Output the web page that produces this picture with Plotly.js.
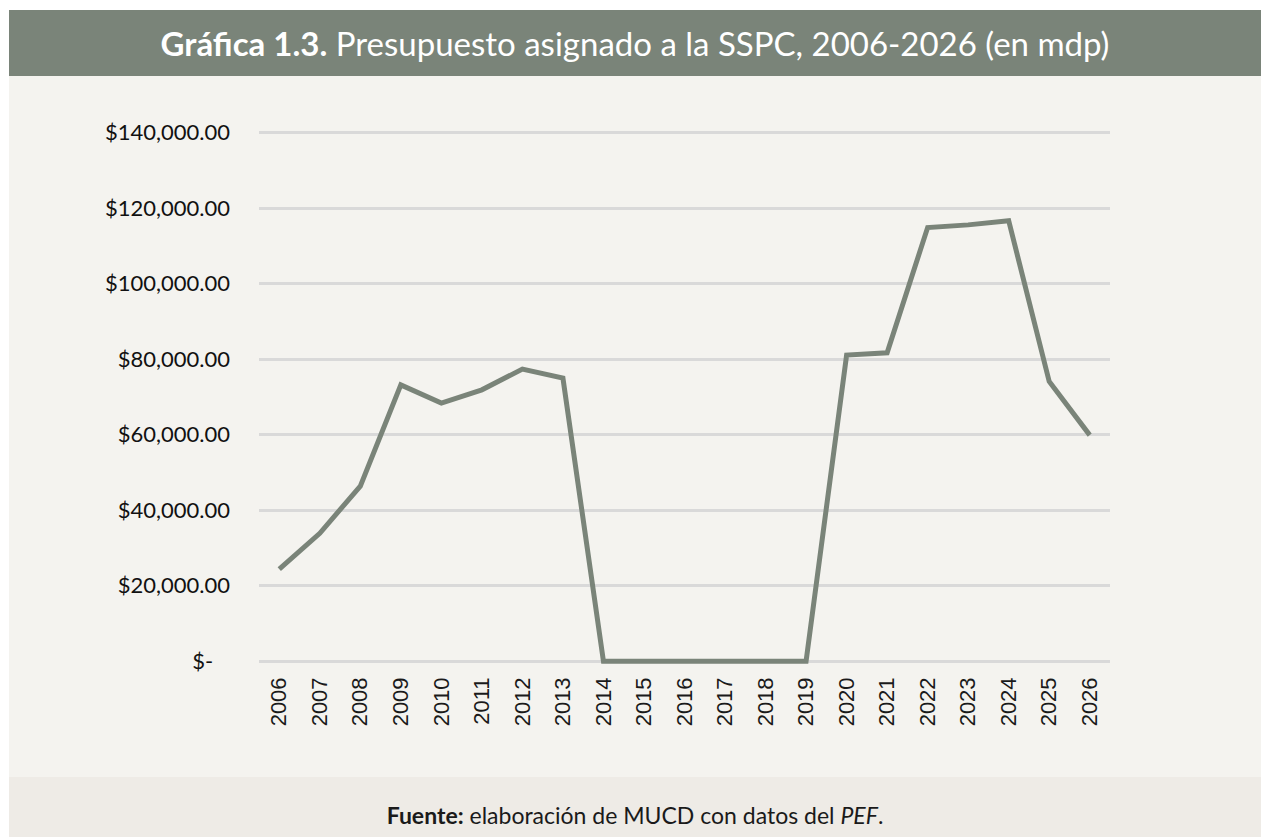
<html>
    <head>
        <title>Presupuesto SSPC</title>
        <meta charset="utf-8">
        <script src="https://cdn.plot.ly/plotly-3.0.1.min.js"></script>
        <style type="text/css">
            body {margin:0; background:#ffffff; width:1261px; height:837px; overflow:hidden; font-family:Lato, "Open Sans", sans-serif;}
            #page {position:absolute; left:9px; top:10px; width:1252px; height:827px; background:#f4f3ef;}
            #header {position:absolute; left:0; top:0; width:100%; height:66px; background:#7a8479; color:#ffffff;
                     font-size:33px; line-height:66px; text-align:center;}
            #footer {position:absolute; left:0; top:767px; width:100%; height:60px; background:#eeebe6; color:#1a1a1a;
                     font-size:23px; line-height:76px; text-align:center;}
            #chart {position:absolute; left:0; top:0; width:1261px; height:837px;}
        </style>
    </head>

    <body>
        <div id="page">
            <div id="header"><b>Gráfica 1.3.</b> Presupuesto asignado a la SSPC, 2006-2026 (en mdp)</div>
            <div id="footer"><b>Fuente:</b> elaboración de MUCD con datos del <i>PEF</i>.</div>
        </div>
        <div id="chart"></div>
        <script>
            var years = ['2006', '2007', '2008', '2009', '2010', '2011', '2012', '2013', '2014', '2015', '2016',
                         '2017', '2018', '2019', '2020', '2021', '2022', '2023', '2024', '2025', '2026'];
            var budget = [24400, 33900, 46400, 73200, 68400, 71900, 77400, 75000, 0, 0, 0,
                          0, 0, 0, 81100, 81700, 114900, 115600, 116700, 74100, 59900];
            var yTickVals = [0, 20000, 40000, 60000, 80000, 100000, 120000, 140000];
            var yTickText = ['$-\u00a0\u00a0\u00a0', '$20,000.00', '$40,000.00', '$60,000.00', '$80,000.00',
                             '$100,000.00', '$120,000.00', '$140,000.00'];

            var data = [ {
                type: 'scatter',
                mode: 'lines',
                x: years,
                y: budget,
                line: {color: '#7a8479', width: 5},
                hoverinfo: 'x+y'
            } ];

            var layout = {
                width: 1261,
                height: 837,
                margin: {l: 259, r: 151, t: 129, b: 172},
                paper_bgcolor: 'rgba(0,0,0,0)',
                plot_bgcolor: 'rgba(0,0,0,0)',
                showlegend: false,
                xaxis: {
                    type: 'category',
                    range: [-0.5, 20.5],
                    tickangle: -90,
                    showgrid: false,
                    zeroline: false,
                    showline: false,
                    ticks: '',
                    ticklabelstandoff: 7,
                    tickfont: {family: '"Liberation Sans", Arial, sans-serif', size: 22, color: '#1a1a1a'}
                },
                yaxis: {
                    range: [-1000, 141000],
                    tickvals: yTickVals,
                    ticktext: yTickText,
                    showgrid: true,
                    gridcolor: '#d9d9d9',
                    gridwidth: 3,
                    zeroline: false,
                    showline: false,
                    ticks: '',
                    ticklabelstandoff: 28,
                    tickfont: {family: 'Lato, sans-serif', size: 22, color: '#111111'}
                }
            };

            Plotly.newPlot('chart', data, layout, {displayModeBar: false, staticPlot: true});
        </script>
    </body>
</html>
